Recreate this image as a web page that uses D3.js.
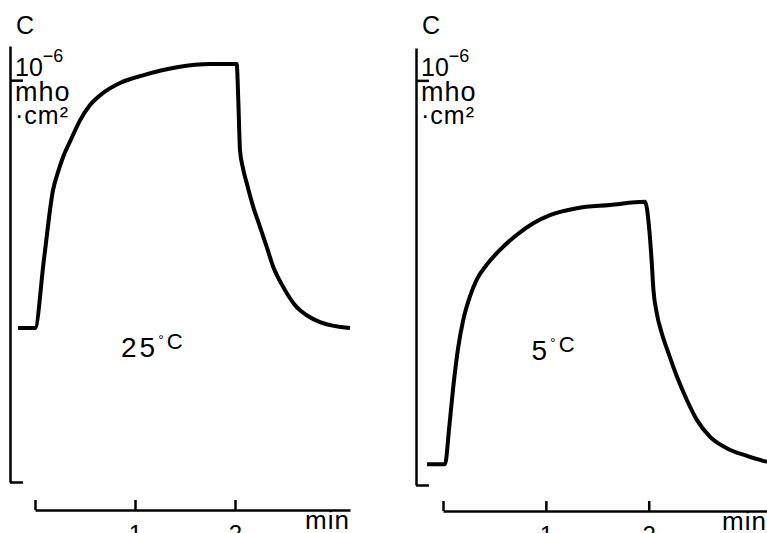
<!DOCTYPE html>
<html>
<head>
<meta charset="utf-8">
<title>Conductance C vs time, 25 and 5 degC</title>
<style>
  body { margin: 0; background: #fff; }
  svg { display: block; font-family: "Liberation Sans", Arial, sans-serif; }
  .curve { fill: none; stroke: #000; stroke-width: 4px; stroke-linejoin: miter; }
  .axis path, .axis line { stroke: #000; stroke-width: 2.5px; }
  .axis text { font-size: 24px; fill: #000; font-family: "Liberation Sans", Arial, sans-serif; }
  text { fill: #000; }
</style>
</head>
<body>
<svg width="767" height="533"></svg>
<script src="https://d3js.org/d3.v7.min.js"></script>
<script>
// time in min after the step, C in units of 10^-6 mho·cm2
const time25 = [-0.17, 0, 0.09, 0.18, 0.23, 0.28, 0.37, 0.45, 0.55, 0.68, 0.85, 1.08, 1.42, 1.75, 2.017,
                2.033, 2.05, 2.077, 2.117, 2.183, 2.25, 2.317, 2.383, 2.483, 2.617, 2.717, 2.85, 3.15];
const cond25 = [0.383, 0.383, 0.555, 0.726, 0.771, 0.808, 0.858, 0.900, 0.938, 0.968, 0.993, 1.012, 1.032, 1.040, 1.040,
                0.950, 0.826, 0.784, 0.744, 0.684, 0.635, 0.585, 0.535, 0.485, 0.435, 0.415, 0.398, 0.383];
const time5 = [-0.155, 0.019, 0.061, 0.100, 0.149, 0.197, 0.262, 0.327, 0.424, 0.554, 0.716, 0.878, 1.040, 1.300, 1.623, 1.964,
               2.006, 2.030, 2.046, 2.078, 2.127, 2.192, 2.274, 2.371, 2.468, 2.597, 2.759, 2.954, 3.15];
const cond5 = [0.051, 0.051, 0.144, 0.243, 0.342, 0.408, 0.466, 0.507, 0.544, 0.581, 0.618, 0.647, 0.667, 0.684, 0.692, 0.700,
               0.630, 0.548, 0.482, 0.425, 0.375, 0.326, 0.268, 0.210, 0.161, 0.119, 0.091, 0.072, 0.057];
const xTicks = [0, 1, 2];
const yTicks = [0, 1];
const temps = ["25", "5"];

const svg = d3.select("svg");

const panels = [
  { t: time25, c: cond25, temp: temps[0], xr: [35, 350], yr: [482, 46], yMax: 1.085, axisX: 10, axisY: 510 },
  { t: time5, c: cond5, temp: temps[1], xr: [443, 767], yr: [485, 48], yMax: 1.08, axisX: 416, axisY: 511 }
];

panels.forEach(p => {
  const x = d3.scaleLinear().domain([0, 3.15]).range(p.xr);
  const y = d3.scaleLinear().domain([0, p.yMax]).range(p.yr);
  const g = svg.append("g");

  // y axis: plain line with a short tick at 1 (x10^-6) and a foot at the bottom
  g.append("g")
      .attr("class", "axis")
      .attr("transform", `translate(${p.axisX},0)`)
      .call(d3.axisLeft(y).tickValues(yTicks).tickSizeInner(-13).tickSizeOuter(0).tickFormat(""));

  // x axis, ticks point up
  g.append("g")
      .attr("class", "axis")
      .attr("transform", `translate(0,${p.axisY})`)
      .call(d3.axisBottom(x).tickValues(xTicks).tickSizeInner(-10).tickSizeOuter(0)
          .tickPadding(15).tickFormat(d => d === 0 ? "" : d));

  g.append("text")
      .attr("x", p.xr[1]).attr("y", p.axisY + 19)
      .attr("text-anchor", "end")
      .attr("font-size", 26).attr("letter-spacing", 1)
      .text("min");

  // axis name and unit
  g.append("text")
      .attr("x", p.axisX + 6).attr("y", 34)
      .attr("font-size", 25)
      .text("C");
  const u = g.append("text")
      .attr("x", p.axisX + 5).attr("y", 76)
      .attr("font-size", 25);
  u.append("tspan").text("10");
  u.append("tspan").attr("dy", -14).attr("font-size", 18).text("−6");
  g.append("text")
      .attr("x", p.axisX + 5).attr("y", 101)
      .attr("font-size", 27).attr("letter-spacing", 1)
      .text("mho");
  g.append("text")
      .attr("x", p.axisX + 5).attr("y", 124)
      .attr("font-size", 25).attr("letter-spacing", 1)
      .text("·cm²");

  const line = d3.line()
      .x((d, i) => x(p.t[i]))
      .y(d => y(d))
      .curve(d3.curveMonotoneX);
  g.append("path")
      .attr("class", "curve")
      .attr("d", line(p.c));

  const lab = g.append("text")
      .attr("x", x(0.86)).attr("y", y(0.31))
      .attr("font-size", 28).attr("letter-spacing", 3);
  lab.append("tspan").text(p.temp);
  lab.append("tspan").attr("dy", -12).attr("font-size", 14).attr("letter-spacing", 0).text("°");
  lab.append("tspan").attr("dx", 3).attr("dy", 4).attr("font-size", 22).attr("letter-spacing", 0).text("C");
});
</script>
</body>
</html>
